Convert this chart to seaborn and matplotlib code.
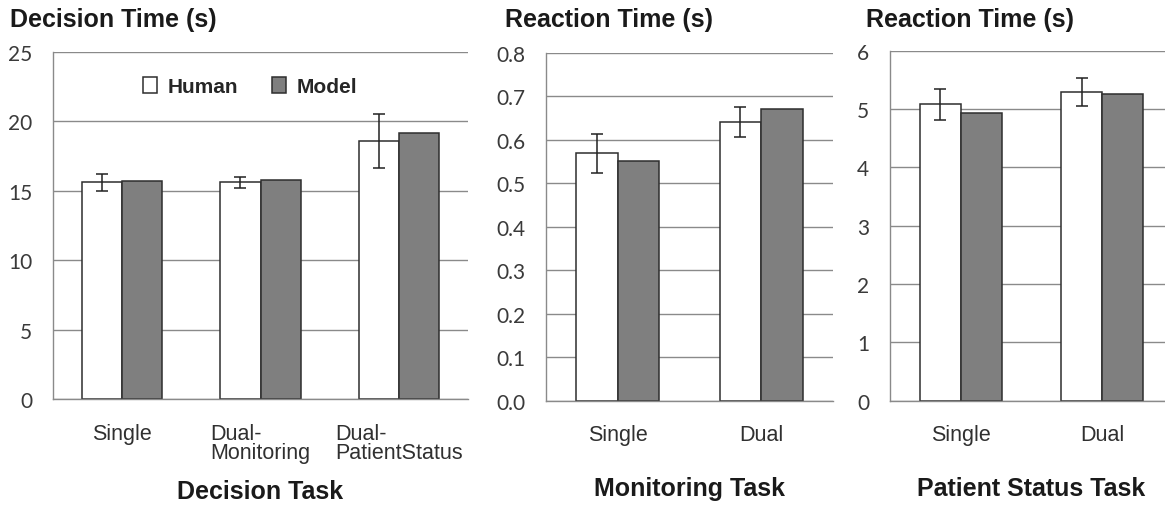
import matplotlib
matplotlib.use("Agg")
import matplotlib.pyplot as plt
import matplotlib.ticker as mticker
import numpy as np
import pandas as pd
import seaborn as sns

# Decision task (decision time, s)
decision_conditions = ["Single", "Dual-\nMonitoring", "Dual-\nPatientStatus"]
decision_human = [15.6, 15.6, 18.6]
decision_human_err = [0.6, 0.4, 1.95]
decision_model = [15.7, 15.8, 19.2]

# Monitoring task (reaction time, s)
monitoring_conditions = ["Single", "Dual"]
monitoring_human = [0.569, 0.641]
monitoring_human_err = [0.045, 0.034]
monitoring_model = [0.551, 0.671]

# Patient status task (reaction time, s)
status_conditions = ["Single", "Dual"]
status_human = [5.08, 5.30]
status_human_err = [0.26, 0.24]
status_model = [4.93, 5.26]

sources = ["Human", "Model"]

sns.set_theme(style="white")
plt.rcParams["font.family"] = ["Liberation Sans", "DejaVu Sans"]

GRID = "#8a8a8a"
EDGE = "#2e2e2e"
palette = {"Human": "#ffffff", "Model": "#7f7f7f"}


def make_frame(conds, human, model):
    return pd.DataFrame({
        "condition": list(conds) * 2,
        "source": ["Human"] * len(conds) + ["Model"] * len(conds),
        "value": list(human) + list(model),
    })


def draw_panel(ax, conds, human, err, model, ymax, step, fmt, title, xlabel,
               title_x, xlabel_y):
    df = make_frame(conds, human, model)
    sns.barplot(data=df, x="condition", y="value", hue="source", hue_order=sources,
                palette=palette, width=0.58, edgecolor=EDGE, linewidth=1.1,
                errorbar=None, ax=ax, legend=True)
    # error bars on the human bars
    hb = ax.containers[0]
    xs = [p.get_x() + p.get_width() / 2 for p in hb]
    ax.errorbar(xs, human, yerr=err, fmt="none", ecolor="#222222",
                elinewidth=1.1, capsize=4, capthick=1.1, zorder=5)

    n = len(conds)
    ax.set_xlim(-0.5, n - 0.5)
    ax.set_ylim(0, ymax)
    ax.yaxis.set_major_locator(mticker.MultipleLocator(step))
    ax.yaxis.set_major_formatter(mticker.FormatStrFormatter(fmt))
    ax.set_axisbelow(True)
    ax.grid(axis="y", color=GRID, linewidth=1.0)
    ax.grid(axis="x", visible=False)

    for s in ("top", "right"):
        ax.spines[s].set_visible(False)
    for s in ("left", "bottom"):
        ax.spines[s].set_color(GRID)
        ax.spines[s].set_linewidth(1.0)

    ax.set_xticks(range(n))
    ax.set_xticklabels(conds, fontsize=15.5, color="#303030",
                       multialignment="left", linespacing=0.9)
    ax.set_xticks(np.arange(-0.5, n, 1.0), minor=True)
    ax.tick_params(axis="x", which="major", length=0, pad=17)
    ax.tick_params(axis="x", which="minor", length=5, color=GRID, width=1)
    ax.tick_params(axis="y", length=8, color=GRID, width=1, pad=7,
                   labelsize=15, labelcolor="#3a3a3a")
    for t in ax.get_yticklabels():
        t.set_fontfamily(["Lato", "DejaVu Sans"])

    ax.set_ylabel("")
    ax.set_xlabel(xlabel, fontsize=18, fontweight="bold", color="#1a1a1a")
    ax.xaxis.label.set_va("center")
    ax.xaxis.set_label_coords(0.5, xlabel_y)
    fig.text(title_x, 1 - 20 / 506, title, fontsize=18, fontweight="bold",
             color="#1a1a1a", ha="left", va="center")


fig = plt.figure(figsize=(11.65, 5.06), dpi=100)
W, H = 1165, 506
ax1 = fig.add_axes([53 / W, 1 - 400 / H, 415 / W, 347 / H])
ax2 = fig.add_axes([546 / W, 1 - 401.7 / H, 287 / W, 347.7 / H])
ax3 = fig.add_axes([890 / W, 1 - 401.7 / H, 283 / W, 350 / H])

draw_panel(ax1, decision_conditions, decision_human, decision_human_err, decision_model,
           25, 5, "%d", "Decision Time (s)", "Decision Task", 10 / W, -0.265)
draw_panel(ax2, monitoring_conditions, monitoring_human, monitoring_human_err,
           monitoring_model, 0.8, 0.1, "%.1f", "Reaction Time (s)", "Monitoring Task",
           505 / W, -0.25)
draw_panel(ax3, status_conditions, status_human, status_human_err, status_model,
           6, 1, "%d", "Reaction Time (s)", "Patient Status Task", 866 / W, -0.25)

ax2.get_legend().remove()
ax3.get_legend().remove()

handles, labels = ax1.get_legend_handles_labels()
ax1.legend(handles, labels, ncol=2, frameon=False, loc="center",
           bbox_to_anchor=(0.475, 0.9), handlelength=0.7, handleheight=0.8,
           handletextpad=0.5, columnspacing=1.6,
           prop={"family": "Liberation Sans", "weight": "bold", "size": 15})

fig.savefig("out.png", dpi=100, facecolor="white")
